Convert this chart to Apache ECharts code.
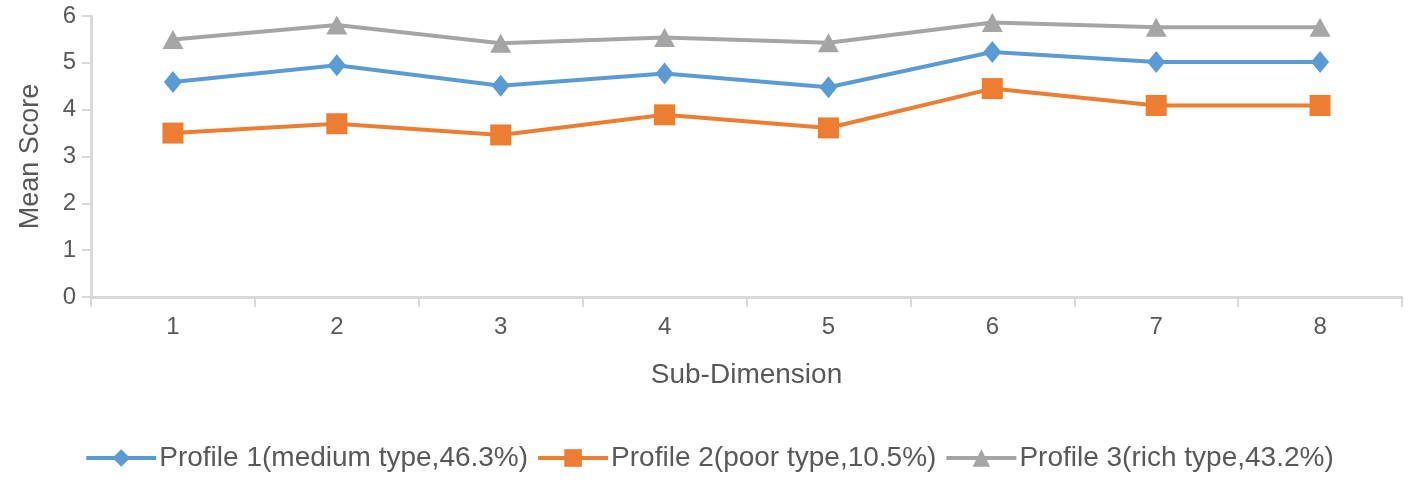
<!DOCTYPE html>
<html>
<head>
<meta charset="utf-8">
<script src="https://cdn.jsdelivr.net/npm/echarts@6/dist/echarts.min.js"></script>
<style>
  html, body { margin: 0; padding: 0; background: #fff; }
  #chart { width: 1418px; height: 492px; }
</style>
</head>
<body>
<div id="chart"></div>
<script>
// sub-dimensions on the x axis
const categories = ['1', '2', '3', '4', '5', '6', '7', '8'];

const profile1 = [4.59, 4.95, 4.51, 4.77, 4.48, 5.23, 5.02, 5.02];
const profile2 = [3.50, 3.70, 3.46, 3.89, 3.61, 4.45, 4.09, 4.09];
const profile3 = [5.50, 5.81, 5.42, 5.54, 5.43, 5.86, 5.76, 5.76];

const seriesNames = [
    'Profile 1(medium type,46.3%)',
    'Profile 2(poor type,10.5%)',
    'Profile 3(rich type,43.2%)'
];

const textColor = '#595959';
const axisColor = '#d9d9d9';
const font = 'Liberation Sans, Arial, sans-serif';

const chart = echarts.init(document.getElementById('chart'));

function line(name, data, color, symbol, size) {
    return {
        name: name,
        type: 'line',
        data: data,
        symbol: symbol,
        symbolSize: size,
        lineStyle: {color: color, width: 4},
        itemStyle: {color: color},
        emphasis: {disabled: true}
    };
}

chart.setOption({
    animation: false,
    textStyle: {fontFamily: font},
    grid: {left: 91, right: 16, top: 16, bottom: 195},
    legend: {
        top: 439,
        left: 'center',
        itemWidth: 70,
        itemHeight: 22,
        itemGap: 8,
        lineStyle: {width: 4},
        textStyle: {color: textColor, fontSize: 28, fontFamily: font, padding: [0, 0, 0, -2]},
        data: seriesNames
    },
    xAxis: {
        type: 'category',
        data: categories,
        boundaryGap: true,
        name: 'Sub-Dimension',
        nameLocation: 'middle',
        nameGap: 64,
        nameTextStyle: {color: textColor, fontSize: 28},
        axisLine: {lineStyle: {color: axisColor, width: 3}},
        axisTick: {show: true, length: 10, lineStyle: {color: axisColor, width: 2}},
        axisLabel: {color: textColor, fontSize: 24, margin: 18},
        splitLine: {show: false}
    },
    yAxis: {
        type: 'value',
        min: 0,
        max: 6,
        interval: 1,
        name: 'Mean Score',
        nameLocation: 'middle',
        nameGap: 47,
        nameTextStyle: {color: textColor, fontSize: 27},
        axisLine: {show: true, lineStyle: {color: axisColor, width: 3}},
        axisTick: {show: true, length: 9, lineStyle: {color: axisColor, width: 2}},
        axisLabel: {color: textColor, fontSize: 24, margin: 15},
        splitLine: {show: false}
    },
    series: [
        line(seriesNames[0], profile1, '#5b9bd5', 'diamond', [18, 22]),
        line(seriesNames[1], profile2, '#ed7d31', 'rect', 21),
        line(seriesNames[2], profile3, '#a5a5a5', 'triangle', [21, 19])
    ]
});
</script>
</body>
</html>
